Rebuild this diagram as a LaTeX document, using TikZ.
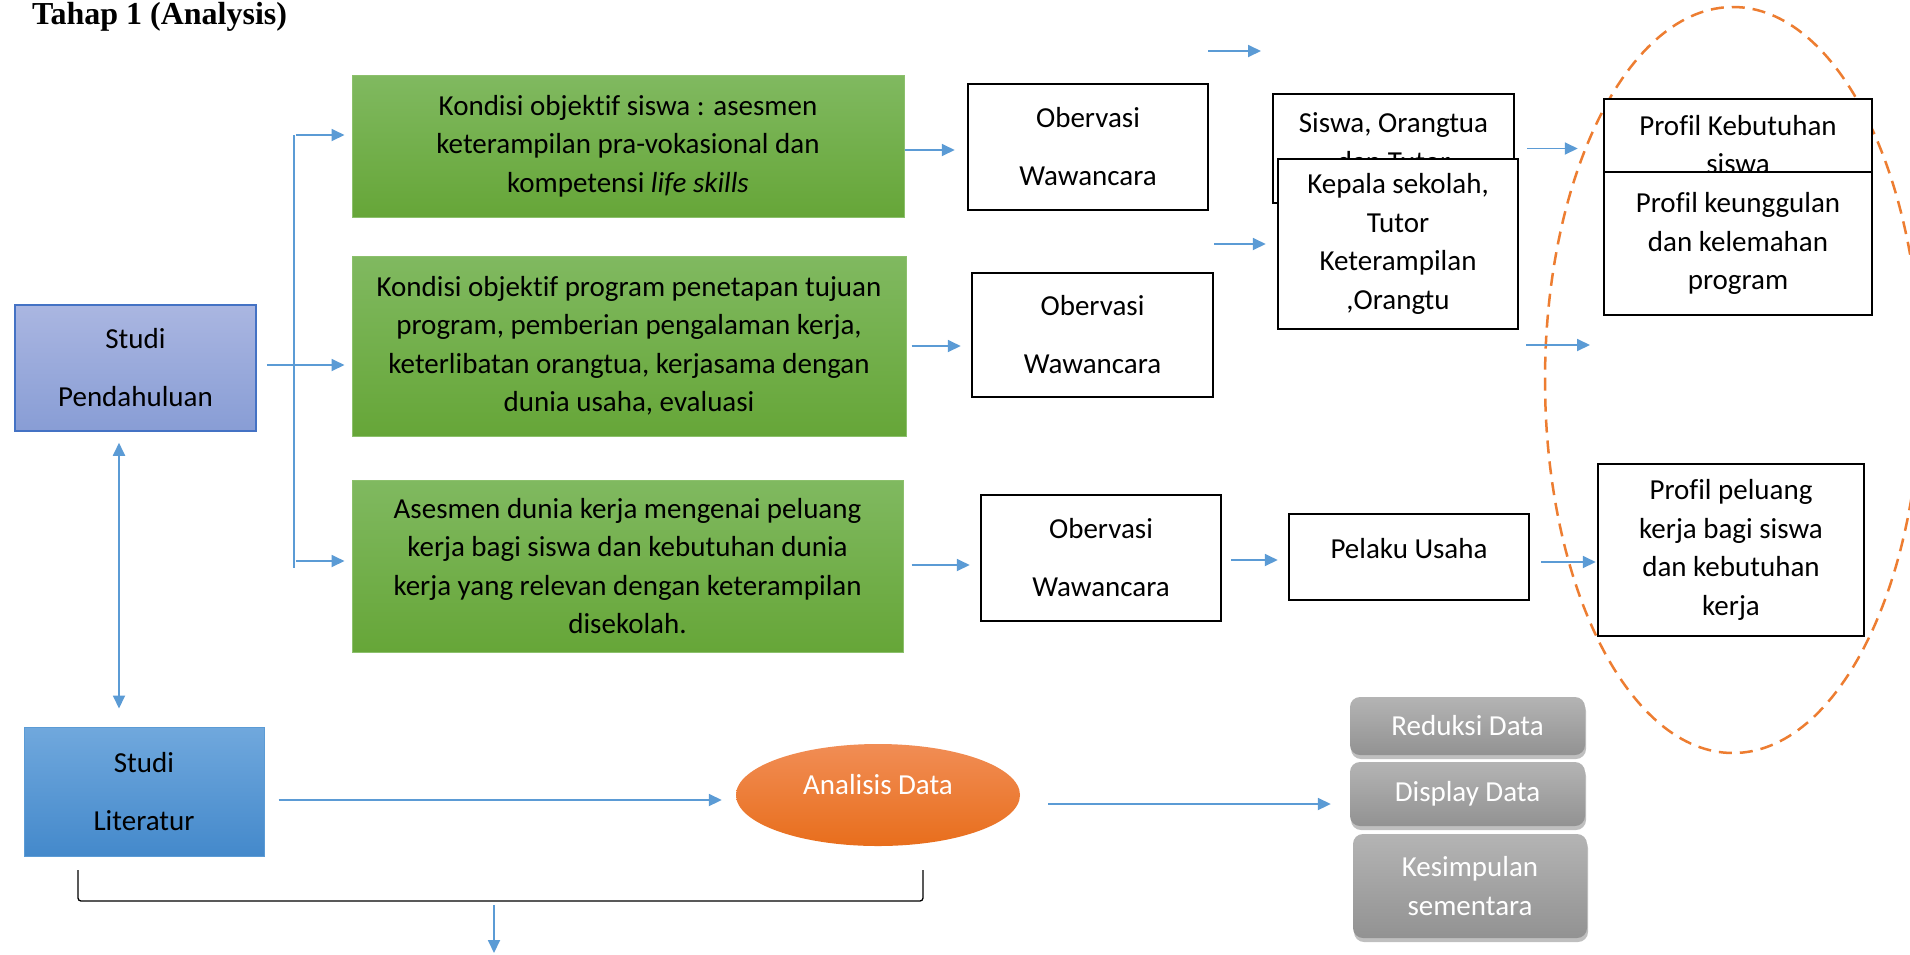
\documentclass[tikz,border=0pt]{standalone}
\usepackage{fontspec}
\setmainfont{Carlito}[Ligatures={NoCommon}]
\newfontfamily\titlefont{Liberation Serif}
\usetikzlibrary{arrows.meta,calc,shadows,shapes.geometric}
\definecolor{lb}{HTML}{5B9BD5}
\definecolor{gtop}{RGB}{128,185,96}
\definecolor{gbot}{RGB}{102,166,56}
\definecolor{gborder}{RGB}{140,192,108}
\definecolor{sptop}{RGB}{170,182,225}
\definecolor{spbot}{RGB}{136,157,213}
\definecolor{spborder}{HTML}{4472C4}
\definecolor{sltop}{RGB}{112,168,221}
\definecolor{slbot}{RGB}{68,137,203}
\definecolor{antop}{RGB}{241,141,85}
\definecolor{anbot}{RGB}{232,110,28}
\definecolor{grtop}{RGB}{180,180,180}
\definecolor{grbot}{RGB}{146,146,146}
\definecolor{dorange}{HTML}{ED7D31}
\tikzset{
  txt/.style={font=\fontsize{29}{38.5}\selectfont},
  wtxt/.style={font=\fontsize{29}{58}\selectfont},
  box/.style={draw=black, line width=2.5pt, fill=white, inner sep=0pt, align=center, txt},
  gbox/.style={draw=gborder, line width=1pt, top color=gtop, bottom color=gbot, inner sep=0pt, align=center, txt},
  graybox/.style={rounded corners=10pt, top color=grtop, bottom color=grbot, inner sep=0pt, align=center, txt, text=white,
     drop shadow={shadow xshift=1pt, shadow yshift=-4pt, opacity=0.25, fill=black}},
  arr/.style={draw=lb, line width=1.8pt, -{Triangle[length=13pt,width=12pt]}},
  darr/.style={draw=lb, line width=1.8pt, {Triangle[length=13pt,width=12pt]}-{Triangle[length=13pt,width=12pt]}},
  ln/.style={draw=lb, line width=1.8pt},
  brk/.style={draw=black, line width=1.3pt, rounded corners=3pt},
}
\begin{document}
\begin{tikzpicture}[x=1pt,y=-1pt]
\useasboundingbox (0,0) rectangle (1910,954);
\fill[white] (0,0) rectangle (1910,954);

% title
\node[anchor=base west, inner sep=0pt, font=\titlefont\bfseries\fontsize{32}{36}\selectfont] (title) at (32,24) {Tahap 1 (Analysis)};

% dashed ellipse
\draw[dorange, line width=2.5pt, dash pattern=on 13pt off 8pt] (1733,380) ellipse [x radius=188pt, y radius=373pt];

% left boxes
\node[draw=spborder, line width=1.5pt, top color=sptop, bottom color=spbot, inner sep=0pt, align=center, wtxt,
      minimum width=241pt, minimum height=126pt] (sp) at (135.5,368) {Studi\\Pendahuluan};
\node[draw=lb, line width=1pt, top color=sltop, bottom color=slbot, inner sep=0pt, align=center, wtxt,
      minimum width=240pt, minimum height=129pt] (sl) at (144,791.5) {Studi\\Literatur};

% green boxes
\node[gbox, minimum width=552pt, minimum height=142pt] (g1) at (628,146)
  {Kondisi objektif siswa : asesmen\\keterampilan pra-vokasional dan\\kompetensi \textit{life skills}};
\node[gbox, minimum width=554pt, minimum height=180pt] (g2) at (629,346)
  {Kondisi objektif program penetapan tujuan\\program, pemberian pengalaman kerja,\\keterlibatan orangtua, kerjasama dengan\\dunia usaha, evaluasi};
\node[gbox, minimum width=551pt, minimum height=172pt] (g3) at (627.5,566)
  {Asesmen dunia kerja mengenai peluang\\kerja bagi siswa dan kebutuhan dunia\\kerja yang relevan dengan keterampilan\\disekolah.};

% observation boxes
\node[box, wtxt, minimum width=240pt, minimum height=126pt] (o1) at (1088,147) {Obervasi\\Wawancara};
\node[box, wtxt, minimum width=241pt, minimum height=124pt] (o2) at (1092.5,335) {Obervasi\\Wawancara};
\node[box, wtxt, minimum width=240pt, minimum height=126pt] (o3) at (1101,558) {Obervasi\\Wawancara};

% sources
\node[box, minimum width=241pt, minimum height=109pt] (sis) at (1393.5,148.5)
  {\raisebox{6.5pt}[\height][\depth]{\parbox{236pt}{\centering Siswa, Orangtua\\dan Tutor}}};
\node[box, minimum width=240pt, minimum height=170pt] (kep) at (1398,244) {Kepala sekolah,\\Tutor\\Keterampilan\\,Orangtu};
\node[box, minimum width=240pt, minimum height=86pt] (pel) at (1409,557) {\raisebox{8pt}[\height][\depth]{Pelaku Usaha}};

% profiles
\node[box, minimum width=268pt, minimum height=91pt] (pk) at (1738,144.5) {Profil Kebutuhan\\siswa};
\node[box, minimum width=268pt, minimum height=143pt] (pku) at (1738,243.5) {Profil keunggulan\\dan kelemahan\\program};
\node[box, minimum width=266pt, minimum height=172pt] (pp) at (1731,550) {Profil peluang\\kerja bagi siswa\\dan kebutuhan\\kerja};

% analysis
\node[ellipse, top color=antop, bottom color=anbot, inner sep=0pt, minimum width=284pt, minimum height=102pt,
      txt, text=white] (an) at (878,795) {\raisebox{10pt}[\height][\depth]{Analisis Data}};

% gray boxes
\node[graybox, minimum width=235pt, minimum height=58pt] (rd) at (1467.5,726) {Reduksi Data};
\node[graybox, minimum width=235pt, minimum height=64pt] (dd) at (1467.5,794) {Display Data};
\node[graybox, minimum width=234pt, minimum height=104pt] (ks) at (1470,886) {Kesimpulan\\sementara};

% connectors
\draw[arr] ($(sp.east)+(10,-3)$) -- ($(sp.east -| g2.west)+(-7,-3)$);
\coordinate (bt) at (294,135);
\coordinate (bb) at (294,568);
\draw[ln] (bt) -- (bb);
\draw[arr] ($(bt)+(2,0)$) -- ($(bt -| g1.west)+(-7,0)$);
\draw[arr] ($(bb)+(2,-7)$) -- ($(bb -| g3.west)+(-7,-7)$);
\draw[darr] ($(sp.south)+(-16.5,11)$) -- ($(sl.north)+(-25,-18)$);

\draw[arr] ($(g1.east)+(0,4)$) -- ($(g1.east -| o1.west)+(-12,4)$);
\draw[arr] ($(g2.east)+(5,0)$) -- ($(g2.east -| o2.west)+(-10,0)$);
\draw[arr] ($(g3.east)+(8,-1)$) -- ($(g3.east -| o3.west)+(-10,-1)$);

\coordinate (s1a) at (1208,51);
\coordinate (s1b) at (1261,51);
\draw[arr] (s1a) -- (s1b);
\coordinate (s2a) at (1214,244);
\draw[arr, shorten >=11pt] (s2a) -- (s2a -| kep.west);
\draw[arr] ($(o3.east)+(9,2)$) -- ($(o3.east -| pel.west)+(-10,2)$);
\draw[arr] ($(sis.east)+(12,0)$) -- ($(sis.east -| pk.west)+(-25,0)$);
\coordinate (s3a) at (1526,345);
\coordinate (s3b) at (1590,345);
\draw[arr] (s3a) -- (s3b);
\draw[arr] ($(pel.east)+(11,5)$) -- ($(pel.east -| pp.west)+(-1,5)$);

\draw[arr] ($(sl.east)+(14,8.5)$) -- ($(sl.east -| an.west)+(-14,8.5)$);
\draw[arr] ($(an.east)+(28,9)$) -- ($(an.east -| dd.west)+(-19,9)$);

\coordinate (bl) at (78,870);
\coordinate (br) at (923,870);
\draw[brk] (bl) -- ++(0,31) -- ($(br)+(0,31)$) -- (br);
\coordinate (bm) at (494,905);
\coordinate (be) at (494,953);
\draw[arr] (bm) -- (be);
\end{tikzpicture}
\end{document}
